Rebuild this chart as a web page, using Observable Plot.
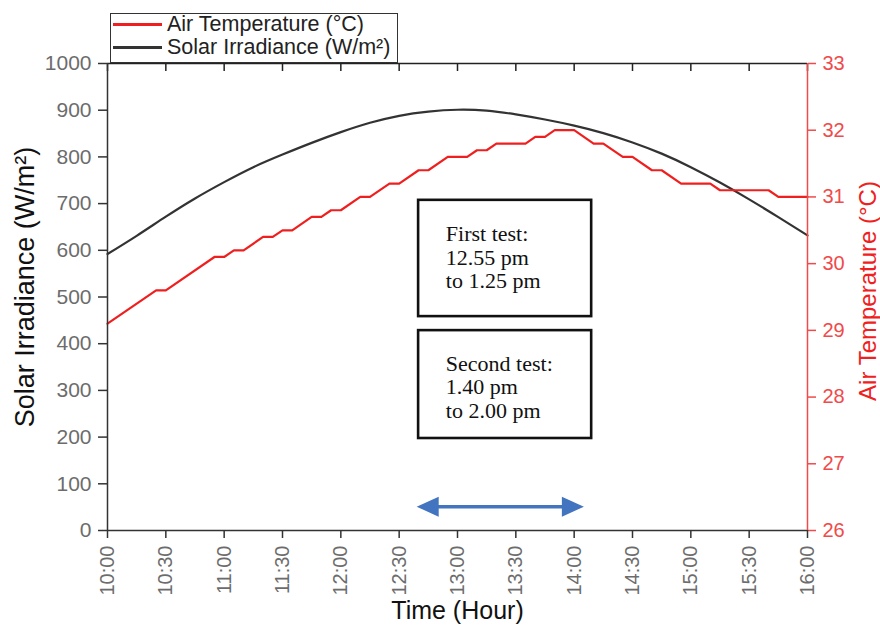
<!DOCTYPE html>
<html>
<head>
<meta charset="utf-8">
<script src="https://cdn.jsdelivr.net/npm/d3@7"></script>
<script src="https://cdn.jsdelivr.net/npm/@observablehq/plot@0.6"></script>
<style>
  html, body { margin: 0; padding: 0; background: #fff; }
  #chart { position: relative; width: 880px; height: 626px; overflow: hidden; }
  #legend {
    position: absolute; left: 110px; top: 13px; width: 286px; height: 48px;
    border: 1.5px solid #333; background: #fff;
    font: 21.5px "Liberation Sans", Arial, sans-serif; color: #222;
  }
  #legend .row { position: absolute; left: 0; height: 23px; display: flex; align-items: center; white-space: nowrap; }
  #legend .swatch { width: 49px; height: 2.2px; margin-left: 2px; margin-right: 5px; }
</style>
</head>
<body>
<div id="chart"></div>
<script>
// Series shown in the legend
const seriesNames = ["Air Temperature (°C)", "Solar Irradiance (W/m²)"];
const seriesColors = ["#f01f1f", "#333333"];

// Solar irradiance (W/m²), read every 15 minutes
const irrTimes = ["10:00", "10:15", "10:30", "10:45", "11:00", "11:15", "11:30", "11:45",
  "12:00", "12:15", "12:30", "12:45", "13:00", "13:15", "13:30", "13:45",
  "14:00", "14:15", "14:30", "14:45", "15:00", "15:15", "15:30", "15:45", "16:00"];
const irrValues = [592, 631, 672, 711, 746, 778, 805, 830,
  853, 873, 888, 897, 901, 899, 891, 880,
  867, 851, 831, 807, 778, 745, 709, 671, 632];

// Air temperature (°C) at the corners of its stepped trace
const tempTimes = ["10:00", "10:25", "10:30", "10:55", "11:00", "11:05", "11:10", "11:20",
  "11:25", "11:30", "11:35", "11:45", "11:50", "11:55", "12:00", "12:10", "12:15",
  "12:25", "12:30", "12:40", "12:45", "12:55", "13:05", "13:10", "13:15", "13:20",
  "13:35", "13:40", "13:45", "13:50", "14:00", "14:10", "14:15", "14:25", "14:30",
  "14:40", "14:45", "14:55", "15:10", "15:15", "15:40", "15:45", "16:00"];
const tempValues = [29.1, 29.6, 29.6, 30.1, 30.1, 30.2, 30.2, 30.4,
  30.4, 30.5, 30.5, 30.7, 30.7, 30.8, 30.8, 31.0, 31.0,
  31.2, 31.2, 31.4, 31.4, 31.6, 31.6, 31.7, 31.7, 31.8,
  31.8, 31.9, 31.9, 32.0, 32.0, 31.8, 31.8, 31.6, 31.6,
  31.4, 31.4, 31.2, 31.2, 31.1, 31.1, 31.0, 31.0];

// Axis ticks
const xTickTimes = ["10:00", "10:30", "11:00", "11:30", "12:00", "12:30", "13:00",
  "13:30", "14:00", "14:30", "15:00", "15:30", "16:00"];
const irrTicks = [0, 100, 200, 300, 400, 500, 600, 700, 800, 900, 1000];
const tempTicks = [26, 27, 28, 29, 30, 31, 32, 33];

// Test-period notes
const testNotes = ["First test:\n12.55 pm\nto 1.25 pm", "Second test:\n1.40 pm\nto 2.00 pm"];

// ---- helpers ----
const toMin = s => { const [h, m] = s.split(":").map(Number); return h * 60 + m; };
const fmtTime = d => `${Math.floor(d / 60)}:${String(d % 60).padStart(2, "0")}`;
const tempMin = tempTicks[0], tempMax = tempTicks[tempTicks.length - 1];
const irrMax = irrTicks[irrTicks.length - 1];
const toIrr = t => (t - tempMin) / (tempMax - tempMin) * irrMax;
const fromIrr = v => tempMin + v / irrMax * (tempMax - tempMin);

const irr = irrTimes.map((t, i) => ({x: toMin(t), y: irrValues[i]}));
const temp = tempTimes.map((t, i) => ({x: toMin(t), y: toIrr(tempValues[i])}));
const xTicks = xTickTimes.map(toMin);

// Annotation layout (time / irradiance units)
const boxes = [
  {text: testNotes[0], x1: toMin("12:40"), x2: toMin("14:09"), y1: 707, y2: 458, tx: toMin("12:54"), ty: 585},
  {text: testNotes[1], x1: toMin("12:40"), x2: toMin("14:09"), y1: 428, y2: 197, tx: toMin("12:54"), ty: 308}
];
const span = {x1: toMin("12:39"), x2: toMin("14:05"), y: 51};

// Filled arrow heads whose origin is the tip
const headLeft = {draw(ctx, size) { const r = Math.sqrt(size / Math.PI);
  ctx.moveTo(0, 0); ctx.lineTo(2.2 * r, -r); ctx.lineTo(2.2 * r, r); ctx.closePath(); }};
const headRight = {draw(ctx, size) { const r = Math.sqrt(size / Math.PI);
  ctx.moveTo(0, 0); ctx.lineTo(-2.2 * r, -r); ctx.lineTo(-2.2 * r, r); ctx.closePath(); }};

const FONT = "'Liberation Sans', Arial, sans-serif";
const tickGray = "#6c6c6c";
const axisRed = "#f04a4a";
const arrowBlue = "#4274bf";

const plot = Plot.plot({
  width: 880,
  height: 626,
  marginLeft: 107,
  marginRight: 73,
  marginTop: 63,
  marginBottom: 96,
  style: {fontFamily: FONT, background: "#fff", overflow: "visible"},
  x: {domain: [toMin("10:00"), toMin("16:00")]},
  y: {domain: [0, irrMax]},
  marks: [
    // test-period boxes
    Plot.rect(boxes, {x1: "x1", x2: "x2", y1: "y1", y2: "y2", fill: "#fff", stroke: "#111", strokeWidth: 2.6}),
    Plot.text(boxes, {x: "tx", y: "ty", text: "text", textAnchor: "start", lineAnchor: "middle",
      fontFamily: "'Liberation Serif', 'Times New Roman', serif", fontSize: 22, lineHeight: 1.07, fill: "#111"}),
    // double-headed span arrow
    Plot.arrow([span], {x1: "x1", x2: "x2", y1: "y", y2: "y", headLength: 0, insetStart: 12, insetEnd: 12,
      stroke: arrowBlue, strokeWidth: 3.5}),
    Plot.dot([span], {x: "x1", y: "y", symbol: headLeft, r: 10, fill: arrowBlue, stroke: "none"}),
    Plot.dot([span], {x: "x2", y: "y", symbol: headRight, r: 10, fill: arrowBlue, stroke: "none"}),
    // data series
    Plot.line(irr, {x: "x", y: "y", stroke: seriesColors[1], strokeWidth: 2.2, curve: "natural"}),
    Plot.line(temp, {x: "x", y: "y", stroke: seriesColors[0], strokeWidth: 2.2}),
    // frame: top edge with inward ticks
    Plot.ruleY([irrMax], {stroke: "#222", strokeWidth: 1.5}),
    Plot.tickX(xTicks, {x: d => d, insetBottom: 459, stroke: "#222", strokeWidth: 1.5}),
    Plot.ruleY([0], {stroke: "#333", strokeWidth: 1.5}),
    Plot.ruleX([toMin("10:00")], {stroke: "#333", strokeWidth: 1.5}),
    Plot.ruleX([toMin("16:00")], {stroke: axisRed, strokeWidth: 1.5}),
    // axes
    Plot.axisY(irrTicks, {anchor: "left", tickSize: 9, tickPadding: 7, fontSize: 21,
      tickFormat: d => String(d), fill: tickGray, stroke: "#333", strokeWidth: 1.5, label: null}),
    Plot.axisY(tempTicks.map(toIrr), {anchor: "right", tickSize: 8, tickPadding: 7, fontSize: 20,
      tickFormat: v => String(Math.round(fromIrr(v))), fill: axisRed, stroke: axisRed, strokeWidth: 1.5, label: null}),
    Plot.axisX(xTicks, {anchor: "bottom", tickSize: 8, tickPadding: 7, tickRotate: -90, fontSize: 20,
      tickFormat: fmtTime, fill: tickGray, stroke: "#333", strokeWidth: 1.5, label: null}),
    // axis titles
    Plot.text(["Solar Irradiance (W/m²)"], {text: d => d, frameAnchor: "left", textAnchor: "middle", lineAnchor: "middle",
      rotate: -90, dx: -82, dy: -10, fontSize: 27, fill: "#111"}),
    Plot.text(["Air Temperature (°C)"], {text: d => d, frameAnchor: "right", textAnchor: "middle", lineAnchor: "middle",
      rotate: -90, dx: 61, dy: -6, fontSize: 24, fill: "#f02020"}),
    Plot.text(["Time (Hour)"], {text: d => d, frameAnchor: "bottom", textAnchor: "middle", lineAnchor: "middle",
      dy: 80, fontSize: 25, fill: "#111"})
  ]
});

const chart = document.getElementById("chart");
chart.appendChild(plot);

// legend over the top-left of the frame
const legend = d3.select(chart).append("div").attr("id", "legend");
seriesNames.forEach((name, i) => {
  const row = legend.append("div").attr("class", "row").style("top", `${-1 + i * 23}px`);
  row.append("div").attr("class", "swatch").style("background", seriesColors[i]);
  row.append("span").text(name);
});
</script>
</body>
</html>
